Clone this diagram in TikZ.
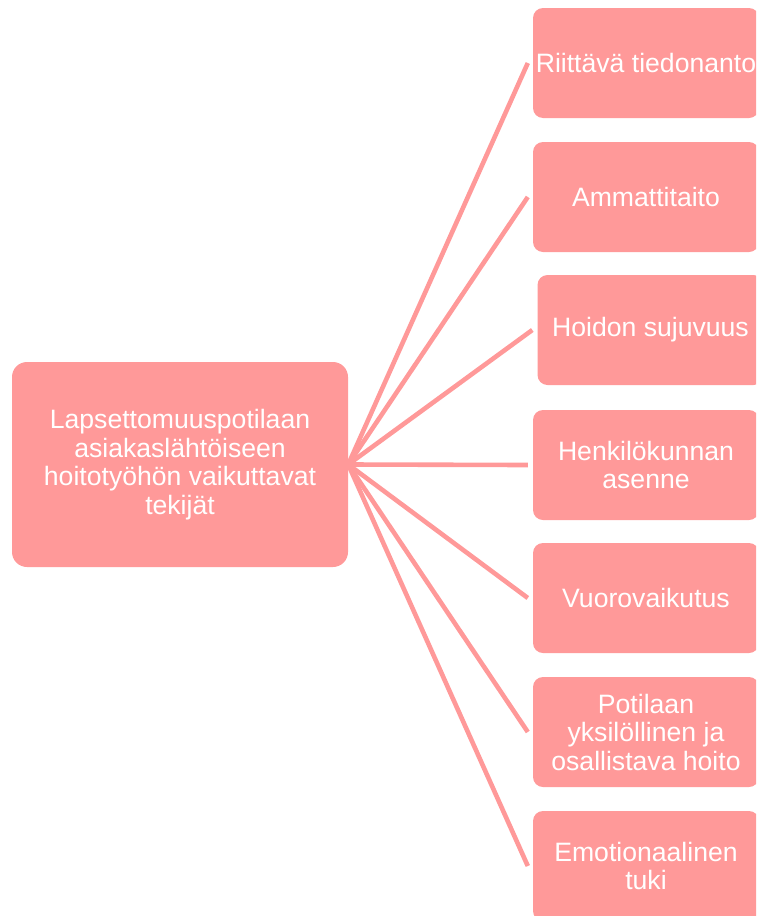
\documentclass[tikz,border=0pt]{standalone}
\usepackage{fontspec}
\setmainfont{Liberation Sans}
\definecolor{boxpink}{RGB}{255,153,153}
\begin{document}
\begin{tikzpicture}[x=1pt,y=-1pt,
  hub/.style={rectangle, rounded corners=15pt, fill=boxpink, draw=none,
    minimum width=336pt, minimum height=205pt, inner sep=0pt,
    text=white, align=center, font=\fontsize{26.6}{28.5}\selectfont},
  leaf/.style={rectangle, rounded corners=10pt, fill=boxpink, draw=none,
    minimum width=226pt, minimum height=110pt, inner sep=0pt,
    text=white, align=center, font=\fontsize{26.6}{28.5}\selectfont},
  link/.style={draw=boxpink, line width=4.6pt}]
\useasboundingbox (0,0) rectangle (756,916);
\clip (0,0) rectangle (756,916);
\node[hub] (c) at (180,464.5) {Lapsettomuuspotilaan\\asiakaslähtöiseen\\hoitotyöhön vaikuttavat\\tekijät};
\node[leaf] (b1) at (646,63) {Riittävä tiedonanto};
\node[leaf] (b2) at (646,197) {Ammattitaito};
\node[leaf] (b3) at (650.5,330) {Hoidon sujuvuus};
\node[leaf] (b4) at (646,465) {Henkilökunnan\\asenne};
\node[leaf] (b5) at (646,598) {Vuorovaikutus};
\node[leaf] (b6) at (646,732) {Potilaan\\yksilöllinen ja\\osallistava hoito};
\node[leaf] (b7) at (646,866) {Emotionaalinen\\tuki};
\foreach \i in {1,...,7}{
  \coordinate (e\i) at ([xshift=-5pt]b\i.west);
  \draw[link] (c.east) -- (e\i);
}
\end{tikzpicture}
\end{document}
